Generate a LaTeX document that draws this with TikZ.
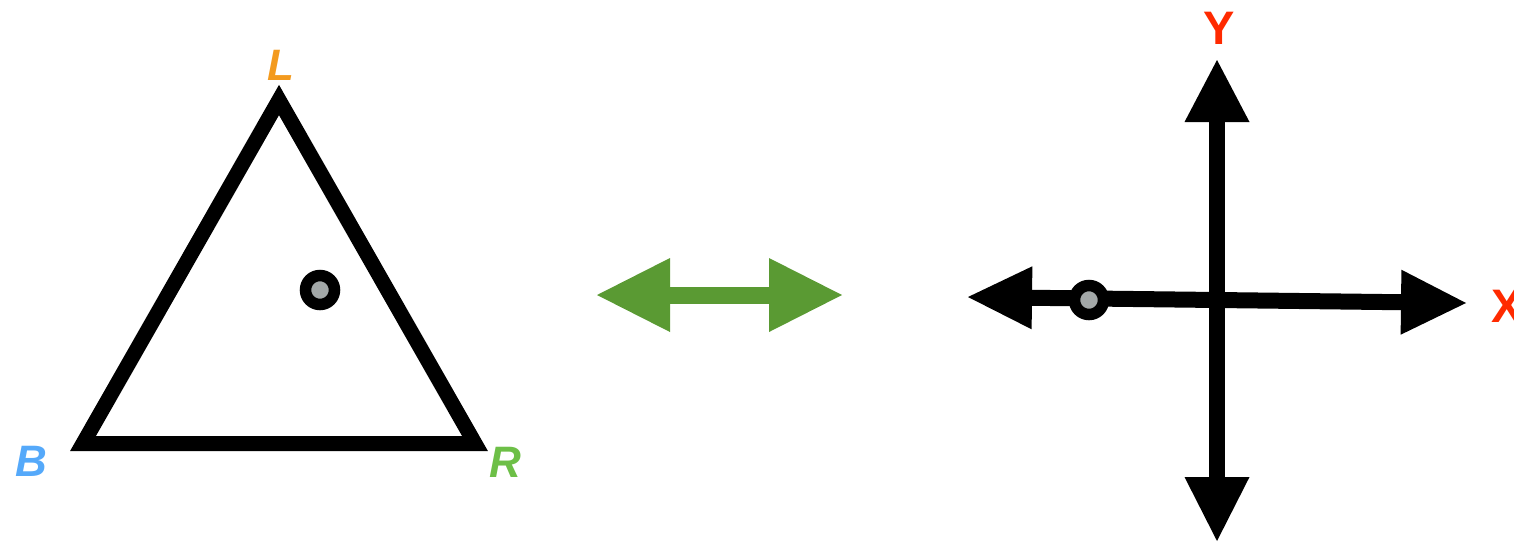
\documentclass[tikz,border=0pt]{standalone}
\usepackage{fontspec}
\setmainfont{Liberation Sans}
\usetikzlibrary{arrows.meta,shadows}
\definecolor{lorange}{HTML}{F39A1E}
\definecolor{bblue}{HTML}{55A9FA}
\definecolor{rgreen}{HTML}{6DBF47}
\definecolor{agreen}{HTML}{5A9A33}
\definecolor{axred}{HTML}{FF2A00}
\definecolor{dotgray}{HTML}{A3A8A8}
\tikzset{
  lbl/.style={font=\fontsize{44}{44}\selectfont\bfseries\itshape, inner sep=0pt},
  axlbl/.style={font=\fontsize{47}{47}\selectfont\bfseries, text=axred, inner sep=0pt},
  tri line/.style={line width=15pt, line join=miter, miter limit=10},
  axis line/.style={line width=16pt},
  dot/.style={circle, minimum size=29pt, inner sep=0pt, draw=black, line width=11.5pt, fill=dotgray,
     drop shadow={shadow xshift=1pt, shadow yshift=-5pt, opacity=0.18, fill=black}},
}
\begin{document}
\begin{tikzpicture}[x=1pt,y=-1pt]
\clip (0,0) rectangle (1514,542);
\useasboundingbox (0,0) rectangle (1514,542);
% triangle
\coordinate (tL) at (279,100);
\coordinate (tB) at (83,443.5);
\coordinate (tR) at (475,443.5);
\draw[tri line] (tL) -- (tR) -- (tB) -- cycle;
\node[dot] (d1) at (320,290) {};
\node[lbl, text=lorange] (lL) at (281,65) {L};
\node[lbl, text=bblue] (lB) at (31,461) {B};
\node[lbl, text=rgreen] (lR) at (505,462) {R};
% green double arrow
\coordinate (gl) at (597,295);
\coordinate (gr) at (842,295);
\draw[line width=17pt, agreen, {Triangle[length=73pt,width=74pt,line width=0pt]}-{Triangle[length=73pt,width=74pt,line width=0pt]}] (gl) -- (gr);
% axes
\coordinate (yt) at (1217,60);
\coordinate (yb) at (1217,541);
\coordinate (xl) at (968,297);
\coordinate (xr) at (1466,303);
\draw[axis line, {Triangle[length=64pt,width=65pt,line width=0pt]}-{Triangle[length=62pt,width=65pt,line width=0pt]}] (yb) -- (yt);
\draw[axis line, {Triangle[length=64pt,width=63pt,line width=0pt]}-{Triangle[length=65pt,width=65pt,line width=0pt]}] (xl) -- (xr);
\node[dot] (d2) at (1089,300) {};
\node[axlbl] (lY) at (1219,28) {Y};
\node[axlbl, anchor=west] (lX) at (1491,306) {X};
\end{tikzpicture}
\end{document}
